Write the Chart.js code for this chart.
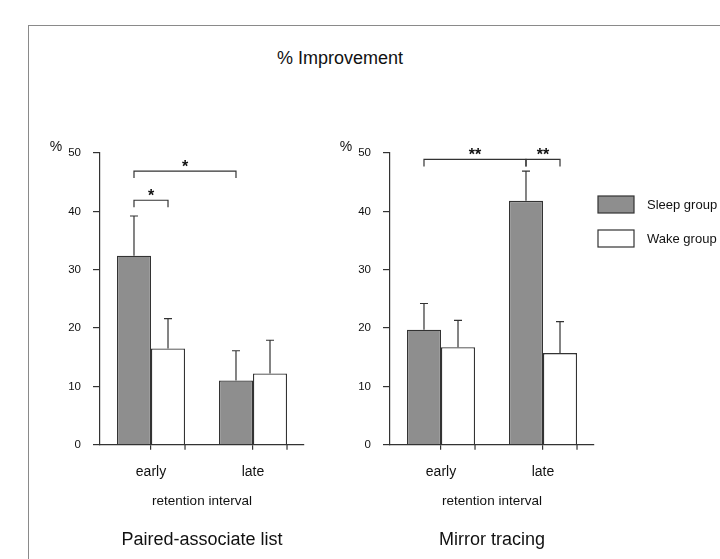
<!DOCTYPE html>
<html>
<head>
<meta charset="utf-8">
<script src="https://cdn.jsdelivr.net/npm/chart.js@4"></script>
<style>
  html, body { margin: 0; padding: 0; background: #fff; }
  #page { position: relative; width: 720px; height: 559px; overflow: hidden; }
  #frame { position: absolute; left: 28px; top: 25px; width: 720px; height: 600px;
           border-left: 1.5px solid #8a8a8a; border-top: 1.5px solid #8a8a8a; }
  #heading { position: absolute; left: 240px; width: 200px; top: 45px; line-height: 26px; text-align: center;
             font-size: 18px; font-family: "Liberation Sans", Arial, sans-serif; color: #111; }
  canvas { position: absolute; left: 0; top: 0; }
</style>
</head>
<body>
<div id="page">
  <div id="frame"></div>
  <div id="heading">% Improvement</div>
  <canvas id="paired" width="720" height="559"></canvas>
  <canvas id="mirror" width="720" height="559"></canvas>
</div>
<script>
const categories = ['early', 'late'];
const seriesNames = ['Sleep group', 'Wake group'];
const yTicks = [0, 10, 20, 30, 40, 50];

// Paired-associate list
const pairedSleep = [32.4, 11.0];
const pairedSleepErr = [6.8, 5.1];
const pairedWake = [16.5, 12.2];
const pairedWakeErr = [5.1, 5.7];

// Mirror tracing
const mirrorSleep = [19.7, 41.8];
const mirrorSleepErr = [4.5, 5.1];
const mirrorWake = [16.7, 15.7];
const mirrorWakeErr = [4.6, 5.4];

// significance brackets: from/to are [dataset, category], at is the height in %
const pairedBrackets = [
  { from: [0, 0], to: [1, 0], at: 41.9, label: '*' },
  { from: [0, 0], to: [0, 1], at: 46.9, label: '*' }
];
const mirrorBrackets = [
  { from: [0, 0], to: [0, 1], at: 48.9, label: '**' },
  { from: [0, 1], to: [1, 1], at: 48.9, label: '**' }
];

const FONT = '"Liberation Sans", Arial, sans-serif';
const INK = '#333333';
const TEXT = '#111111';
Chart.defaults.font.family = FONT;
Chart.defaults.color = TEXT;

// error bars, significance brackets, the % sign and the legend
const decor = {
  id: 'decor',
  afterDatasetsDraw(chart, args, opts) {
    const ctx = chart.ctx;
    const y = chart.scales.y;
    const area = chart.chartArea;
    ctx.save();
    ctx.strokeStyle = INK;
    ctx.fillStyle = TEXT;
    ctx.lineWidth = 1.2;

    chart.data.datasets.forEach((ds, i) => {
      chart.getDatasetMeta(i).data.forEach((bar, j) => {
        const top = y.getPixelForValue(ds.data[j] + ds.errors[j]);
        ctx.beginPath();
        ctx.moveTo(bar.x, bar.y);
        ctx.lineTo(bar.x, top);
        ctx.moveTo(bar.x - 4, top);
        ctx.lineTo(bar.x + 4, top);
        ctx.stroke();
        if (i === 1) {
          const edge = bar.x + bar.width / 2;
          ctx.beginPath();
          ctx.moveTo(edge, area.bottom);
          ctx.lineTo(edge, area.bottom + 5);
          ctx.stroke();
        }
      });
    });

    ctx.font = 'bold 16px ' + FONT;
    ctx.textAlign = 'center';
    ctx.textBaseline = 'alphabetic';
    opts.brackets.forEach(b => {
      const x1 = chart.getDatasetMeta(b.from[0]).data[b.from[1]].x;
      const x2 = chart.getDatasetMeta(b.to[0]).data[b.to[1]].x;
      const py = y.getPixelForValue(b.at);
      ctx.beginPath();
      ctx.moveTo(x1, py + 7);
      ctx.lineTo(x1, py);
      ctx.lineTo(x2, py);
      ctx.lineTo(x2, py + 7);
      ctx.stroke();
      ctx.fillText(b.label, (x1 + x2) / 2, py + 1);
    });

    ctx.font = '14px ' + FONT;
    ctx.textBaseline = 'middle';
    ctx.fillText('%', area.left - 44, area.top - 6);

    if (opts.legend) {
      ctx.font = '13px ' + FONT;
      ctx.textAlign = 'left';
      chart.data.datasets.forEach((ds, i) => {
        const bx = area.right + 4;
        const by = area.top + 43 + i * 34;
        ctx.fillStyle = ds.backgroundColor;
        ctx.fillRect(bx, by, 36, 17);
        ctx.strokeRect(bx, by, 36, 17);
        ctx.fillStyle = TEXT;
        ctx.fillText(ds.label, bx + 49, by + 9);
      });
    }
    ctx.restore();
  }
};

function makeChart(id, sleep, sleepErr, wake, wakeErr, brackets, caption, left, right, legend) {
  return new Chart(document.getElementById(id), {
    type: 'bar',
    data: {
      labels: categories,
      datasets: [
        { label: seriesNames[0], data: sleep, errors: sleepErr, backgroundColor: '#8e8e8e', borderColor: INK, borderWidth: 1.3 },
        { label: seriesNames[1], data: wake, errors: wakeErr, backgroundColor: '#ffffff', borderColor: INK, borderWidth: 1.3 }
      ]
    },
    options: {
      responsive: false,
      animation: false,
      datasets: { bar: { categoryPercentage: 0.667, barPercentage: 1.0 } },
      layout: { padding: { left: left - 60, right: 720 - right, top: 153, bottom: 8.2 } },
      scales: {
        x: {
          grid: { drawOnChartArea: false, offset: false, tickLength: 5, color: INK, lineWidth: 1.2 },
          border: { color: INK, width: 1.2 },
          ticks: { font: { size: 14 }, padding: 13.6 },
          title: { display: true, text: 'retention interval', font: { size: 13.5 }, padding: { top: 0, bottom: 4.9 } },
          afterFit(scale) { scale.height = 70; }
        },
        y: {
          min: 0,
          max: 50,
          afterBuildTicks(scale) { scale.ticks = yTicks.map(v => ({ value: v })); },
          grid: { drawOnChartArea: false, tickLength: 7, color: INK, lineWidth: 1.2 },
          border: { color: INK, width: 1.2 },
          ticks: { font: { size: 11.5 }, padding: 12 },
          afterFit(scale) { scale.width = 60; }
        }
      },
      plugins: {
        legend: { display: false },
        tooltip: { enabled: false },
        title: {
          display: true,
          position: 'bottom',
          fullSize: false,
          text: caption,
          font: { size: 18, weight: 'normal' },
          padding: { top: 14.5, bottom: 0 }
        },
        decor: { brackets: brackets, legend: legend }
      }
    },
    plugins: [decor]
  });
}

makeChart('paired', pairedSleep, pairedSleepErr, pairedWake, pairedWakeErr, pairedBrackets,
  'Paired-associate list', 100, 304, false);
makeChart('mirror', mirrorSleep, mirrorSleepErr, mirrorWake, mirrorWakeErr, mirrorBrackets,
  'Mirror tracing', 390, 594, true);
</script>
</body>
</html>
